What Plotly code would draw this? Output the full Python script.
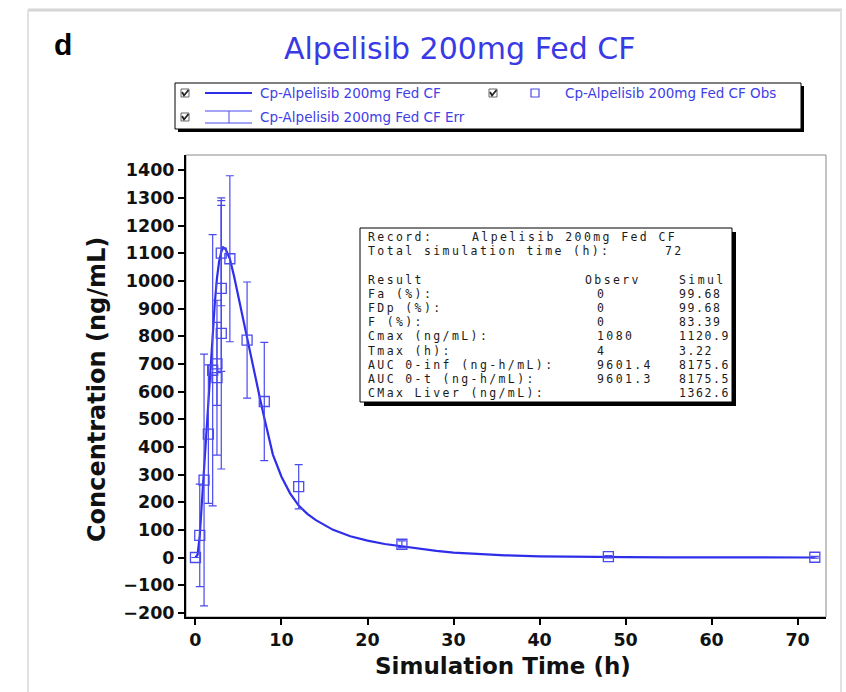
import plotly.graph_objects as go

# ---------------- data ----------------
sim_time = [0, 0.25, 0.5, 0.75, 1, 1.25, 1.5, 1.75, 2, 2.25, 2.5, 2.75, 3, 3.22, 3.5, 4, 4.5, 5,
            5.5, 6, 6.5, 7, 7.5, 8, 8.5, 9, 10, 11, 12, 13, 14, 15, 16, 18, 20, 22, 24, 26, 28,
            30, 33, 36, 40, 45, 50, 55, 60, 66, 72]
sim_conc = [0, 10, 80, 200, 320, 450, 580, 700, 820, 920, 1010, 1070, 1105, 1120.9, 1115, 1080,
            1015, 940, 865, 790, 720, 650, 575, 505, 435, 372, 292, 232, 188, 158, 135, 116, 100,
            77, 61, 49, 40, 31, 24, 18, 12, 8, 4.5, 2.2, 1.1, 0.6, 0.3, 0.15, 0.08]

obs_time = [0, 0.5, 1, 1.5, 2, 2.5, 2.5, 3, 3, 3, 4, 6, 8, 12, 24, 48, 72]
obs_conc = [0, 80, 280, 446, 677, 650, 700, 810, 973, 1100, 1080, 786, 564, 256, 48, 3, 1]
obs_err = [0, 185, 455, 250, 490, 280, 150, 490, 300, 190, 300, 210, 214, 80, 12, 4, 3]

x_ticks = [0, 10, 20, 30, 40, 50, 60, 70]
y_ticks = list(range(-200, 1401, 100))

title_text = "Alpelisib 200mg Fed CF"
legend_labels = ["Cp-Alpelisib 200mg Fed CF", "Cp-Alpelisib 200mg Fed CF Obs",
                 "Cp-Alpelisib 200mg Fed CF Err"]

box_labels = ["Fa (%):", "FDp (%):", "F (%):", "Cmax (ng/mL):", "Tmax (h):",
              "AUC 0-inf (ng-h/mL):", "AUC 0-t (ng-h/mL):", "CMax Liver (ng/mL):"]
box_observ = ["0", "0", "0", "1080", "4", "9601.4", "9601.3", ""]
box_simul = ["99.68", "99.68", "83.39", "1120.9", "3.22", "8175.6", "8175.5", "1362.6"]

# ---------------- layout helpers ----------------
W, H = 846, 692
L, R, T, B = 186, 826, 155, 617
BLUE = "#2e2eea"
BLUE2 = "#4a4aee"
TXTBLUE = "#4040e6"


def px(x):
    return (x - L) / (R - L)


def py(y):
    return (B - y) / (B - T)


shapes = []
annots = []


def rect(x0, y0, x1, y1, line_color="black", width=1, fill=None, layer="above"):
    d = dict(type="rect", xref="paper", yref="paper", x0=px(x0), x1=px(x1), y0=py(y1), y1=py(y0),
             line=dict(color=line_color, width=width), layer=layer)
    if fill:
        d["fillcolor"] = fill
    if width == 0:
        d["line"] = dict(width=0)
    shapes.append(d)


def line(x0, y0, x1, y1, color, width=1):
    shapes.append(dict(type="line", xref="paper", yref="paper", x0=px(x0), x1=px(x1),
                       y0=py(y0), y1=py(y1), line=dict(color=color, width=width)))


def path(pts, color, width=1.5):
    s = "M " + " L ".join(f"{px(a):.5f},{py(b):.5f}" for a, b in pts)
    shapes.append(dict(type="path", xref="paper", yref="paper", path=s,
                       line=dict(color=color, width=width)))


def text(x, y, s, size, color="black", family="DejaVu Sans", weight="normal", xanchor="left",
         angle=0):
    annots.append(dict(x=px(x), y=py(y), xref="paper", yref="paper", text=s, showarrow=False,
                       xanchor=xanchor, yanchor="middle", textangle=angle,
                       font=dict(size=size, color=color, family=family, weight=weight)))


# outer faint frame
line(28, 10, 842, 10, "#d6d6d6", 3)
line(28, 10, 28, 692, "#e2e2e2", 2)
line(841, 10, 841, 692, "#e2e2e2", 2)

# plot frame (top/right gray)
rect(L, T, R, B, line_color="#8a8a8a", width=1, layer="below")

# title and panel label
text(63, 45, "d", 30, "black", "Liberation Sans", "bold", "center")
text(460, 48, title_text, 30, "#3a3ae4", "DejaVu Sans", "normal", "center")

# legend box
rect(178, 86, 804, 132, width=0, fill="black")
rect(175, 83, 801, 129, line_color="black", width=1, fill="white")


def checkbox(cx, cy):
    rect(cx - 4, cy - 4, cx + 4, cy + 4, line_color="#666666", width=1, fill="white")
    path([(cx - 3, cy - 1), (cx - 1, cy + 2.5), (cx + 3.5, cy - 3)], "#222222", 1.8)


checkbox(185, 93)
checkbox(493, 93)
checkbox(185, 117)
line(205, 93, 252, 93, BLUE, 2)
rect(531, 89, 539, 97, line_color=BLUE2, width=1.2)
line(205, 111, 252, 111, BLUE2, 1)
line(205, 123, 252, 123, BLUE2, 1)
line(229, 111, 229, 123, BLUE2, 1)
text(258, 93, legend_labels[0], 13.5, TXTBLUE)
text(563, 93, legend_labels[1], 13.5, TXTBLUE)
text(258, 117, legend_labels[2], 13.5, TXTBLUE)

# result box
rect(364, 232, 736, 406, width=0, fill="black")
rect(360, 228, 732, 402, line_color="black", width=1, fill="white")

MONO = "DejaVu Sans Mono"


def mono(x, y, s, sp=2.4):
    s = s.replace(" ", "&nbsp;")
    text(x, y, f'<span style="letter-spacing:{sp}px">{s}</span>', 11.5, "#1a1a1a", MONO)


row_y = [237 + 14.2 * i for i in range(12)]
mono(366, row_y[0], "Record:")
mono(470, row_y[0], "Alpelisib 200mg Fed CF")
mono(366, row_y[1], "Total simulation time (h):")
mono(663, row_y[1], "72")
mono(366, row_y[3], "Result")
mono(583, row_y[3], "Observ")
mono(677, row_y[3], "Simul")
for i, (lab, ob, si) in enumerate(zip(box_labels, box_observ, box_simul)):
    y = row_y[4 + i]
    mono(366, y, lab)
    if ob:
        mono(595, y, ob)
    mono(677, y, si, 1.6)

# axis titles
text(503, 666, "Simulation Time (h)", 23, "#111111", "DejaVu Sans", "bold", "center")
text(97, 390, "Concentration (ng/mL)", 24, "#111111", "DejaVu Sans", "bold", "center", -90)

# ---------------- figure ----------------
fig = go.Figure()
fig.add_trace(go.Scatter(x=sim_time, y=sim_conc, mode="lines", line=dict(color=BLUE, width=2.2),
                         showlegend=False, cliponaxis=True))
fig.add_trace(go.Scatter(x=obs_time, y=obs_conc, mode="markers",
                         marker=dict(symbol="square-open", size=10, color=BLUE2,
                                     line=dict(width=1.3, color=BLUE2)),
                         error_y=dict(type="data", array=obs_err, visible=True, color=BLUE2,
                                      thickness=1.2, width=4),
                         showlegend=False))

tickfont = dict(family="DejaVu Sans", size=17.5, color="#111111", weight="bold")
fig.update_layout(
    width=W, height=H,
    margin=dict(l=L, r=W - R, t=T, b=H - B, pad=0),
    paper_bgcolor="white", plot_bgcolor="white",
    showlegend=False,
    shapes=shapes, annotations=annots,
    xaxis=dict(range=[-1.1, 73.3], tickvals=x_ticks, showgrid=False, zeroline=False,
               showline=True, linecolor="black", linewidth=2, ticks="outside", ticklen=6,
               tickwidth=2, tickcolor="black", tickfont=tickfont),
    yaxis=dict(range=[-215, 1455], tickvals=y_ticks, showgrid=False, zeroline=False,
               showline=True, linecolor="black", linewidth=2, ticks="outside", ticklen=6,
               tickwidth=2, tickcolor="black", tickfont=tickfont),
)

fig.write_html("out.html")
